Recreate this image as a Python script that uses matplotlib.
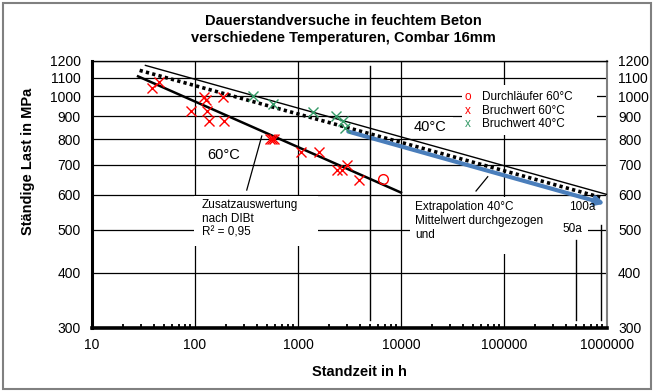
import matplotlib
matplotlib.use("Agg")
import matplotlib.pyplot as plt
from matplotlib.patches import Rectangle
from matplotlib.ticker import FixedLocator, NullFormatter, LogLocator, FuncFormatter

plt.rcParams['font.family'] = ['Liberation Sans', 'DejaVu Sans']

# Bruchwert 60°C (broken specimens)
t60 = [38, 45, 92, 122, 128, 130, 136, 188, 191, 530, 560, 590, 1080, 1600, 2380, 2690, 2970, 3940]
s60 = [1043, 1076, 928, 998, 978, 928, 881, 998, 881, 800, 800, 800, 750, 750, 682, 682, 700, 647]
# Durchläufer 60°C (runout)
t60_run = [6640]
s60_run = [650]
# Bruchwert 40°C
t40 = [368, 568, 1410, 2340, 2755, 2860]
s40 = [1002, 961, 923, 903, 881, 847]

# fitted / drawn lines (end points)
fit60_t = [28, 10000]
fit60_s = [1108, 606]
upper_t = [33, 1000000]
upper_s = [1173, 600]
mean40_t = [29, 920000]
mean40_s = [1143, 589]
extra_t = [3080, 955000]
extra_s = [832, 572]

# marker lines (test end, 50a, 100a)
vline_t = [5000, 500000, 876000]
vline_top = [1170, 474, 513]
vline_bot = 313

yticks = [300, 400, 500, 600, 700, 800, 900, 1000, 1100, 1200]
xticks = [10, 100, 1000, 10000, 100000, 1000000]

red = '#FF0000'
green = '#339966'
blue = '#4A7EBB'

fig = plt.figure(figsize=(6.55, 3.92), dpi=100)
ax = fig.add_axes([92/655, 1-328/392, 515/655, 267/392])
ax.set_xscale('log')
ax.set_yscale('log')
ax.set_xlim(10, 1000000)
ax.set_ylim(300, 1200)

ax.yaxis.set_major_locator(FixedLocator(yticks))
ax.yaxis.set_minor_locator(FixedLocator([]))
ax.yaxis.set_major_formatter(FuncFormatter(lambda v, p: '%d' % v))
ax.yaxis.set_minor_formatter(NullFormatter())
ax.xaxis.set_major_locator(FixedLocator(xticks))
ax.xaxis.set_major_formatter(FuncFormatter(lambda v, p: '%d' % v))
ax.xaxis.set_minor_locator(LogLocator(base=10, subs=range(2, 10)))
ax.xaxis.set_minor_formatter(NullFormatter())

ax.tick_params(axis='y', which='both', length=0, labelsize=10, left=False,
               right=False, labelleft=True, labelright=True, pad=8)
ax.tick_params(axis='x', which='major', length=0, labelsize=10, pad=7)
ax.tick_params(axis='x', which='minor', direction='in', length=3, width=1.3,
               bottom=True, top=False)

ax.grid(True, which='major', color='black', lw=0.9, zorder=0)
ax.set_axisbelow(True)

ax.spines['bottom'].set_linewidth(2.6)
ax.spines['left'].set_linewidth(2.2)
ax.spines['top'].set_linewidth(1.0)
ax.spines['right'].set_linewidth(1.5)
ax.spines['right'].set_color('#808080')

# white boxes behind the annotations (hide grid)
boxes = [(0.198, 0.307, 0.241, 0.187),
         (0.617, 0.277, 0.346, 0.214),
         (0.718, 0.723, 0.263, 0.187),
         (0.617, 0.723, 0.084, 0.067)]
rects = []
for b in boxes:
    r = Rectangle((b[0], b[1]), b[2], b[3], transform=ax.transAxes,
                  facecolor='white', edgecolor='none', zorder=1.5)
    ax.add_patch(r)
    rects.append(r)

# lines
ax.plot(upper_t, upper_s, color='black', lw=1.0, zorder=3)
ax.plot(mean40_t, mean40_s, color='black', lw=2.6, ls=(0, (0.9, 0.9)), zorder=3)
ax.plot(fit60_t, fit60_s, color='black', lw=1.8, zorder=3)
ax.annotate('', xy=(extra_t[1], extra_s[1]), xytext=(extra_t[0], extra_s[0]),
            arrowprops=dict(arrowstyle='-|>', color=blue, lw=3,
                            mutation_scale=12, shrinkA=0, shrinkB=0), zorder=3)

for t, top in zip(vline_t, vline_top):
    ax.plot([t, t], [vline_bot, top], color='black', lw=1.0, zorder=3)

# leader lines
ax.plot([445, 318], [813, 614], color='black', lw=0.9, zorder=3)
ax.plot([69500, 53500], [658, 611], color='black', lw=0.9, zorder=3)

# data points
ax.plot(t60, s60, ls='none', marker='x', ms=7.5, mew=1.0, color=red, zorder=4)
ax.plot(t40, s40, ls='none', marker='x', ms=7.5, mew=1.0, color=green, zorder=4)
ax.plot(t60_run, s60_run, ls='none', marker='o', ms=7, mew=1.0,
        mfc='none', mec=red, zorder=4)

# labels in plot
ax.text(0.256, 0.648, '60°C', transform=ax.transAxes, fontsize=10.5,
        ha='center', va='center', zorder=5)
t40lab = ax.text(0.656, 0.752, '40°C', transform=ax.transAxes, fontsize=10.5,
                 ha='center', va='center', zorder=5)
t40lab.set_clip_path(rects[3])
ax.text(0.2136, 0.482, 'Zusatzauswertung\nnach DIBt\nR² = 0,95',
        transform=ax.transAxes, fontsize=8.5, ha='left', va='top',
        linespacing=1.2, zorder=5)
ax.text(0.627, 0.475, 'Extrapolation 40°C\nMittelwert durchgezogen\nund',
        transform=ax.transAxes, fontsize=8.5, ha='left', va='top',
        linespacing=1.2, zorder=5)
ax.text(0.951, 0.453, '100a', transform=ax.transAxes, fontsize=8.5,
        ha='center', va='center', zorder=5)
ax.text(0.932, 0.371, '50a', transform=ax.transAxes, fontsize=8.5,
        ha='center', va='center', zorder=5,
        bbox=dict(facecolor='white', edgecolor='none', pad=1))

# legend drawn by hand
leg_items = [('o', red, 'Durchläufer 60°C'),
             ('x', red, 'Bruchwert 60°C'),
             ('x', green, 'Bruchwert 40°C')]
leg_y = [0.865, 0.813, 0.764]
for (m, c, lab), y in zip(leg_items, leg_y):
    ax.text(0.730, y, m, color=c, transform=ax.transAxes, fontsize=8.5,
            ha='center', va='center', zorder=5)
    ax.text(0.757, y, lab, transform=ax.transAxes, fontsize=8.5,
            ha='left', va='center', zorder=5)

# titles and axis labels
fig.text(343/655, 1-21/392, 'Dauerstandversuche in feuchtem Beton',
         fontsize=10.5, fontweight='bold', ha='center', va='center')
fig.text(343/655, 1-38/392, 'verschiedene Temperaturen, Combar 16mm',
         fontsize=10.5, fontweight='bold', ha='center', va='center')
fig.text(359/655, 1-372/392, 'Standzeit in h', fontsize=10.5,
         fontweight='bold', ha='center', va='center')
fig.text(28/655, 1-161/392, 'Ständige Last in MPa', fontsize=10.5,
         fontweight='bold', ha='center', va='center', rotation=90)

# outer frame
fig.patches.append(Rectangle((3/655, 3/392), 648/655, 386/392,
                             transform=fig.transFigure, fill=False,
                             edgecolor='#808080', lw=1.5))

fig.savefig('out.png', dpi=100)
